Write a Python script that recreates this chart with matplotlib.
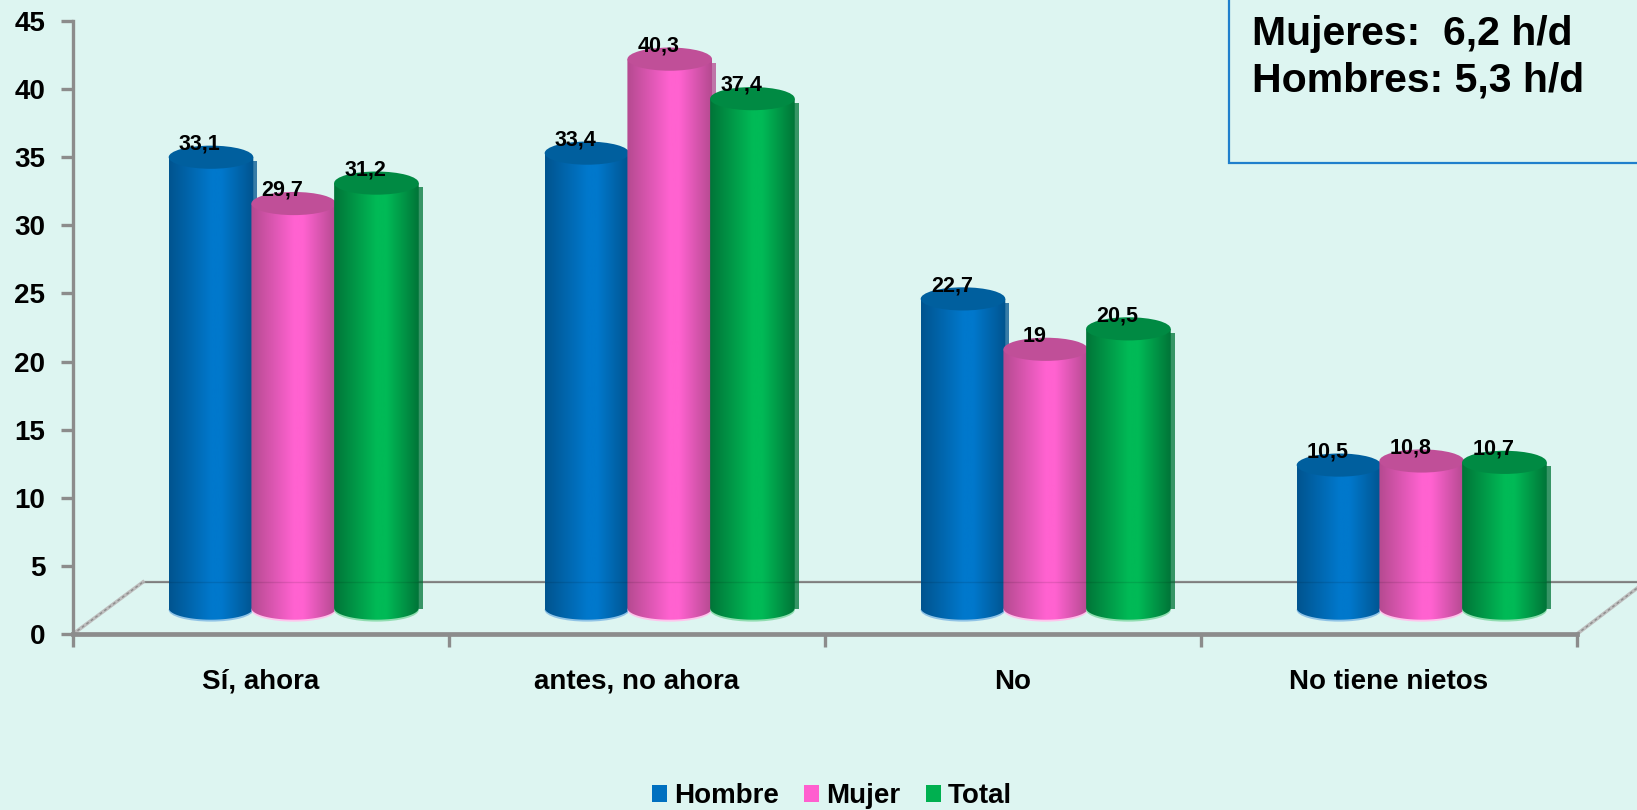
import numpy as np
import matplotlib
matplotlib.use("Agg")
import matplotlib.pyplot as plt
from matplotlib.colors import LinearSegmentedColormap
from matplotlib.patches import Ellipse, Patch, PathPatch, Rectangle
from matplotlib.path import Path

categories = ["Sí, ahora", "antes, no ahora", "No", "No tiene nietos"]
hombre = [33.1, 33.4, 22.7, 10.5]
mujer = [29.7, 40.3, 19, 10.8]
total = [31.2, 37.4, 20.5, 10.7]
series_names = ["Hombre", "Mujer", "Total"]
box_lines = ["Mujeres:  6,2 h/d", "Hombres: 5,3 h/d"]

W, H = 1637, 810
BG = "#DDF5F1"
AXIS = "#8C8C8C"
FONT = ["Liberation Sans", "DejaVu Sans"]
# legend colour, dark edge, bright middle, top cap, bottom rim
STYLE = [
    ("#0070C0", "#00548F", "#0078CC", "#005F9E", "#8FC3E6"),
    ("#FF5FCF", "#B54A90", "#FF62D0", "#C04F98", "#FFC4EC"),
    ("#00B050", "#007538", "#00BA56", "#008A43", "#8FDDB0"),
]
BAR_W = 0.225
STEP = 0.22
GROUP_SHIFT = 0.087
BASE = 1.9      # bars stand mid-way on the floor
RY = 0.85
SIDE = 0.013    # dark strip on the right of each cylinder


def draw_bar(ax, x, val, style, z):
    _, dark, bright, cap, rim = style
    left, right = x - BAR_W / 2, x + BAR_W / 2
    t = np.linspace(np.pi, 2 * np.pi, 40)
    bottom = np.column_stack([x + BAR_W / 2 * np.cos(t), BASE + RY * np.sin(t)])
    verts = np.vstack([[left, val + BASE], bottom, [right, val + BASE], [left, val + BASE]])
    body = PathPatch(Path(verts), facecolor="none", edgecolor="none",
                     transform=ax.transData)
    ax.add_patch(Rectangle((right - 0.002, BASE - 0.1), SIDE, val - 0.2, facecolor=dark,
                           edgecolor="none", alpha=0.75, zorder=z, clip_on=False))
    ax.add_patch(Ellipse((x, BASE - 0.14), BAR_W, 2 * RY, facecolor=rim,
                         edgecolor="none", zorder=z, clip_on=False))
    ax.add_patch(body)
    cmap = LinearSegmentedColormap.from_list(
        "bar", [(0, dark), (0.5, bright), (0.62, bright), (1, dark)])
    im = ax.imshow(np.linspace(0, 1, 128)[None, :], cmap=cmap, aspect="auto",
                   extent=(left, right, BASE - RY, val + BASE), zorder=z + 0.1)
    im.set_clip_path(body)
    ax.add_patch(Ellipse((x, val + BASE), BAR_W, 2 * RY, facecolor=cap,
                         edgecolor="none", zorder=z + 0.2, clip_on=False))


def make():
    plt.rcParams["font.family"] = FONT
    fig = plt.figure(figsize=(W / 100, H / 100), dpi=100, facecolor=BG)
    ax = fig.add_axes([73 / W, 1 - 634 / H, (1577 - 73) / W, (634 - 21) / H])
    ax.patch.set_visible(False)

    # floor and back wall
    wall = (634 - 582) / 613 * 45
    dx = 70 / 376
    ax.plot([dx, 4.2], [wall, wall], color=AXIS, lw=1.6, zorder=1, clip_on=False)
    for xs in ([0, dx], [4, 4 + 60 / 376]):
        ax.plot(xs, [0, wall * (1 if xs[0] == 0 else 0.88)], color="#BDBDBD", lw=2.6,
                zorder=1, clip_on=False)
        ax.plot(xs, [0, wall * (1 if xs[0] == 0 else 0.88)], color="#8C8C8C", lw=1,
                ls=(0, (2, 2)), zorder=1.1, clip_on=False)

    for j, vals in enumerate([hombre, mujer, total]):
        for i, v in enumerate(vals):
            x = i + 0.5 + GROUP_SHIFT + (j - 1) * STEP
            draw_bar(ax, x, v, STYLE[j], 2 + j)
            ax.annotate(f"{v:g}".replace(".", ","), (x, v + BASE), xytext=(-8, 9.5),
                        textcoords="offset points", ha="center", va="center",
                        fontsize=15.5, fontweight="bold", color="black", zorder=8)
    ax.plot([dx, 4.2], [wall, wall], color="black", lw=1, alpha=0.1, zorder=6, clip_on=False)

    ax.set_xlim(0, 4)
    ax.set_ylim(0, 45)
    ax.set_yticks(range(0, 46, 5))
    ax.set_xticks(range(5))
    ax.set_xticklabels([])
    ax.set_xticks(np.arange(4) + 0.5, categories, minor=True)
    ax.tick_params(axis="x", which="major", length=9, width=2.4, color=AXIS)
    ax.tick_params(axis="x", which="minor", length=0, pad=25, labelsize=20)
    ax.tick_params(axis="y", length=9, width=2.4, color=AXIS, pad=11, labelsize=20)
    for lab in ax.get_xminorticklabels() + ax.get_yticklabels():
        lab.set_fontweight("bold")
    for side in ("top", "right"):
        ax.spines[side].set_visible(False)
    ax.spines["left"].set_color(AXIS)
    ax.spines["left"].set_linewidth(2.4)
    ax.spines["bottom"].set_color(AXIS)
    ax.spines["bottom"].set_linewidth(3.4)

    # note box runs off the top right corner
    fig.add_artist(Rectangle((1229 / W, 1 - 163 / H), 500 / W, 300 / H, facecolor=BG,
                             edgecolor="#1F7FCC", lw=1.6, transform=fig.transFigure))
    for line, py in zip(box_lines, (34, 81)):
        fig.text(1252 / W, 1 - py / H, line, ha="left", va="center", fontsize=29.5,
                 fontweight="bold", color="black")

    fig.legend(handles=[Patch(facecolor=s[0], label=n) for s, n in zip(STYLE, series_names)],
               loc="center", bbox_to_anchor=(832 / W, 1 - 796 / H), ncols=3, frameon=False,
               prop={"size": 20, "weight": "bold"}, handlelength=0.55, handleheight=0.55,
               handletextpad=0.25, columnspacing=0.9)

    fig.savefig("out.png", dpi=100, facecolor=BG)
    plt.close(fig)


if __name__ == "__main__":
    make()
